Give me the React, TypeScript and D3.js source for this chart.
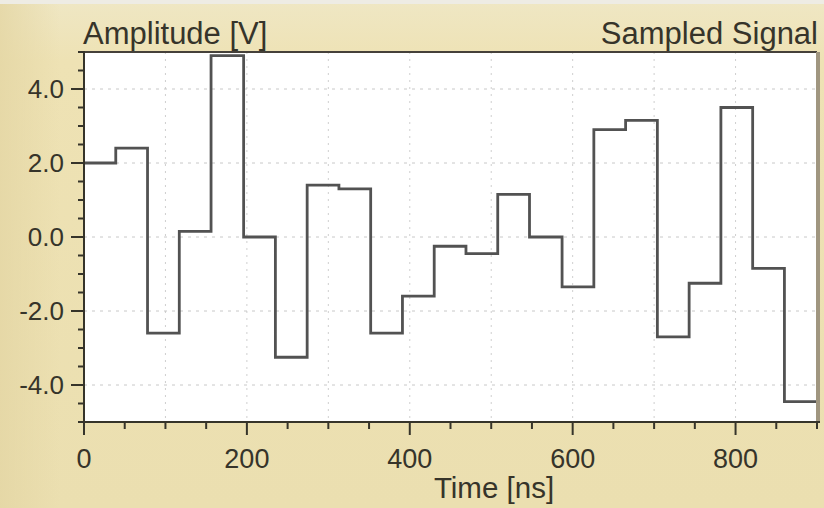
import React from 'react';
import * as d3 from 'd3';

// sample instants (ns) and held amplitudes (V)
const sampleTimes = [0, 39, 78, 117, 156, 196, 235, 274, 313, 352, 391, 430, 469, 508, 547, 587, 626, 665, 704, 743, 782, 821, 860];
const sampleValues = [2.0, 2.4, -2.6, 0.15, 4.9, 0.0, -3.25, 1.4, 1.3, -2.6, -1.6, -0.25, -0.45, 1.15, 0.0, -1.35, 2.9, 3.15, -2.7, -1.25, 3.5, -0.85, -4.45];
const xMajorTicks = [0, 200, 400, 600, 800];
const yMajorTicks = [-4, -2, 0, 2, 4];
const xGridTicks = [100, 200, 300, 400, 500, 600, 700, 800];

const W = 824;
const H = 508;
const m = { left: 84, right: 817, top: 52, bottom: 422 };
const ink = '#36342a';
const font = '"Liberation Sans", Arial, sans-serif';

export default function App() {
    const x = d3.scaleLinear().domain([0, 900]).range([m.left, m.right]);
    const y = d3.scaleLinear().domain([-5, 5]).range([m.bottom, m.top]);

    const pts: [number, number][] = sampleTimes.map((t, i) => [t, sampleValues[i]]);
    pts.push([900, sampleValues[sampleValues.length - 1]]);
    const line = d3
        .line<[number, number]>()
        .x((d) => x(d[0]))
        .y((d) => y(d[1]))
        .curve(d3.curveStepAfter);

    const xMinor = d3.range(0, 901, 50);
    const yMinor = d3.range(-5, 5.01, 0.5);

    return (
        <svg width={W} height={H} style={{ position: 'absolute', left: 0, top: 0 }} fontFamily={font}>
            <defs>
                <linearGradient id="bg" x1="0" y1="0" x2="0" y2="1">
                    <stop offset="0" stopColor="#efe7c4" />
                    <stop offset="0.12" stopColor="#eee2b4" />
                    <stop offset="1" stopColor="#ebdfb0" />
                </linearGradient>
                <linearGradient id="side" x1="0" y1="0" x2="1" y2="0">
                    <stop offset="0" stopColor="#e4d6a4" stopOpacity="0.8" />
                    <stop offset="1" stopColor="#e4d6a4" stopOpacity="0" />
                </linearGradient>
            </defs>
            <rect width={W} height={H} fill="url(#bg)" />
            <rect width={60} height={H} fill="url(#side)" />
            <rect width={W} height={4} fill="#eeece4" />
            <rect x={m.left} y={m.top} width={m.right - m.left} height={m.bottom - m.top} fill="#ffffff" />

            {/* grid */}
            {xGridTicks.map((t) => (
                <line key={'gx' + t} x1={x(t)} x2={x(t)} y1={m.top} y2={m.bottom} stroke="#cfcfcf" strokeDasharray="2,5" />
            ))}
            {yMajorTicks.map((t) => (
                <line key={'gy' + t} x1={m.left} x2={m.right} y1={y(t)} y2={y(t)} stroke="#c8c8c8" strokeDasharray="3,5" />
            ))}

            {/* signal */}
            <path d={line(pts) || ''} fill="none" stroke="#525252" strokeWidth={2.8} />

            {/* frame */}
            <line x1={m.left} x2={m.right} y1={m.top} y2={m.top} stroke="#45413a" strokeWidth={2} />
            <line x1={m.right + 1} x2={m.right + 1} y1={m.top} y2={m.bottom} stroke="#a09680" strokeWidth={4} />
            <line x1={m.left} x2={m.right + 3} y1={m.bottom} y2={m.bottom} stroke={ink} strokeWidth={2} />
            <line x1={m.left} x2={m.left} y1={m.top - 1} y2={m.bottom} stroke={ink} strokeWidth={2} />

            {/* ticks */}
            {xMinor.map((t) => (
                <line key={'tx' + t} x1={x(t)} x2={x(t)} y1={m.bottom} y2={m.bottom + (t % 200 === 0 ? 13 : 7)} stroke={ink} strokeWidth={2} />
            ))}
            {yMinor.map((t) => (
                <line key={'ty' + t} x1={m.left} x2={m.left - (Math.abs(t % 2) < 1e-6 && Math.abs(t) < 4.9 ? 13 : 6)} y1={y(t)} y2={y(t)} stroke={ink} strokeWidth={2} />
            ))}

            {xMajorTicks.map((t) => (
                <text key={'lx' + t} x={x(t)} y={468} textAnchor="middle" fontSize={27} fill={ink}>
                    {t}
                </text>
            ))}
            {yMajorTicks.map((t) => (
                <text key={'ly' + t} x={64} y={y(t)} dy="0.36em" textAnchor="end" fontSize={26} fill={ink}>
                    {t.toFixed(1)}
                </text>
            ))}

            <text x={83} y={44} fontSize={31} fill={ink}>
                Amplitude [V]
            </text>
            <text x={818} y={44} fontSize={31} textAnchor="end" fill={ink}>
                Sampled Signal
            </text>
            <text x={494} y={498} fontSize={29.5} textAnchor="middle" fill={ink}>
                Time [ns]
            </text>
        </svg>
    );
}
